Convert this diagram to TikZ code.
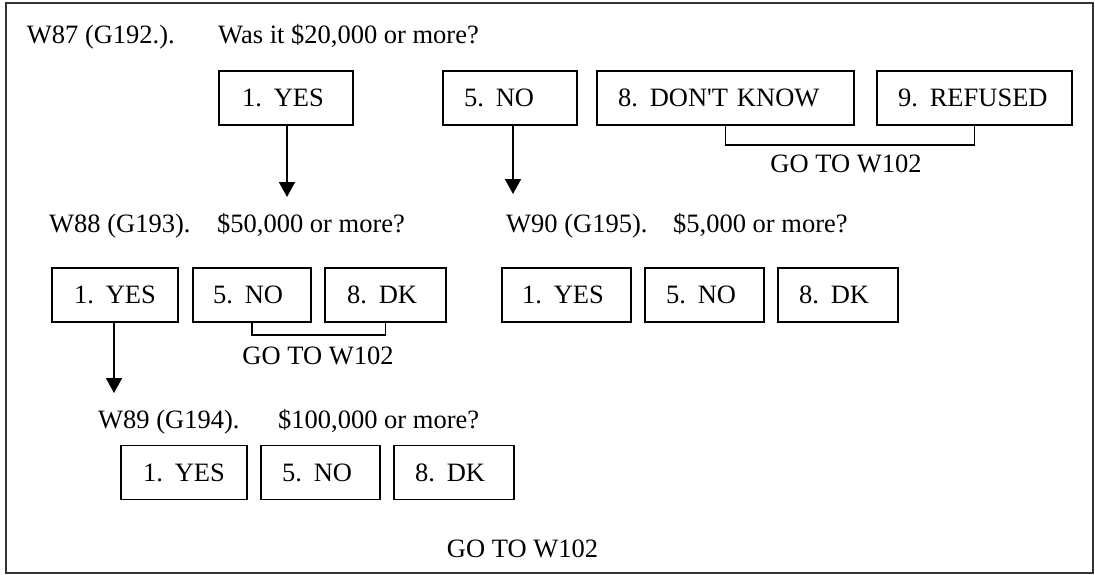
\documentclass[tikz,border=0pt]{standalone}
\usepackage{fontspec}
\setmainfont{Liberation Serif}
\usetikzlibrary{arrows.meta,calc}
\newcommand{\optgap}{\hspace{0.45em}}
\begin{document}
\frenchspacing
\begin{tikzpicture}[x=1pt,y=-1pt,
  every node/.style={font=\fontsize{26.5}{31}\selectfont\frenchspacing, inner sep=0pt},
  opt/.style 2 args={draw, line width=1.7pt, minimum height=54pt, anchor=center,
     inner xsep=0pt, text width=#1, align=left, execute at begin node={\hspace*{#2}}},
  lbl/.style={anchor=base west},
  goto/.style={anchor=center},
  conn/.style={line width=1.7pt},
  arr/.style={line width=1.7pt, -{Triangle[width=16pt,length=15pt]}}]
\useasboundingbox (0,0) rectangle (1095,575);
\draw[line width=1.8pt, black!80] (6,3) rectangle (1093,573);

% Row 1
\node[lbl] (q1a) at (26.7,44) {W87 (G192.).};
\node[lbl] (q1b) at (218,44) {Was it \$20,000 or more?};
\node[opt={134pt}{23pt}] (yes1) at (286,98) {1.\optgap YES};
\node[opt={134pt}{21pt}] (no1) at (510,98) {5.\optgap NO};
\node[opt={257pt}{21pt}] (dk1) at (725.5,98) {8.\optgap DON\textquotesingle T KNOW};
\node[opt={195pt}{21pt}] (ref1) at (974.5,98) {9.\optgap REFUSED};
\draw[conn] (dk1.south) -- ++(0,19) -| (ref1.south);
\node[goto] (g1) at (846,163.5) {GO TO W102};
\coordinate (t1) at (287,197);
\coordinate (t2) at (513,194);
\draw[arr] (t1 |- yes1.south) -- (t1);
\draw[arr] (t2 |- no1.south) -- (t2);

% Row 2
\node[lbl] (q2a) at (49,232) {W88 (G193).};
\node[lbl] (q2b) at (217,232) {\$50,000 or more?};
\node[lbl] (q3a) at (506,232) {W90 (G195).};
\node[lbl] (q3b) at (673,232) {\$5,000 or more?};
\node[opt={126pt}{22pt}] (yes2) at (115,295) {1.\optgap YES};
\node[opt={118pt}{20pt}] (no2) at (252,295) {5.\optgap NO};
\node[opt={121pt}{22pt}] (dk2) at (385.5,295) {8.\optgap DK};
\draw[conn] (no2.south) -- ++(0,12) -| (dk2.south);
\node[goto] (g2) at (318,355.5) {GO TO W102};
\node[opt={129pt}{20pt}] (yes3) at (566.5,295) {1.\optgap YES};
\node[opt={119pt}{21pt}] (no3) at (704.5,295) {5.\optgap NO};
\node[opt={120pt}{21pt}] (dk3) at (838,295) {8.\optgap DK};
\coordinate (t3) at (114,393);
\draw[arr] (t3 |- yes2.south) -- (t3);

% Row 3
\node[lbl] (q4a) at (98,428) {W89 (G194).};
\node[lbl] (q4b) at (278,428) {\$100,000 or more?};
\node[opt={126pt}{22pt}] (yes4) at (184,472.5) {1.\optgap YES};
\node[opt={119pt}{21pt}] (no4) at (320.5,472.5) {5.\optgap NO};
\node[opt={120pt}{21pt}] (dk4) at (454,472.5) {8.\optgap DK};
\node[goto] (g3) at (522.5,548.5) {GO TO W102};
\end{tikzpicture}
\end{document}
